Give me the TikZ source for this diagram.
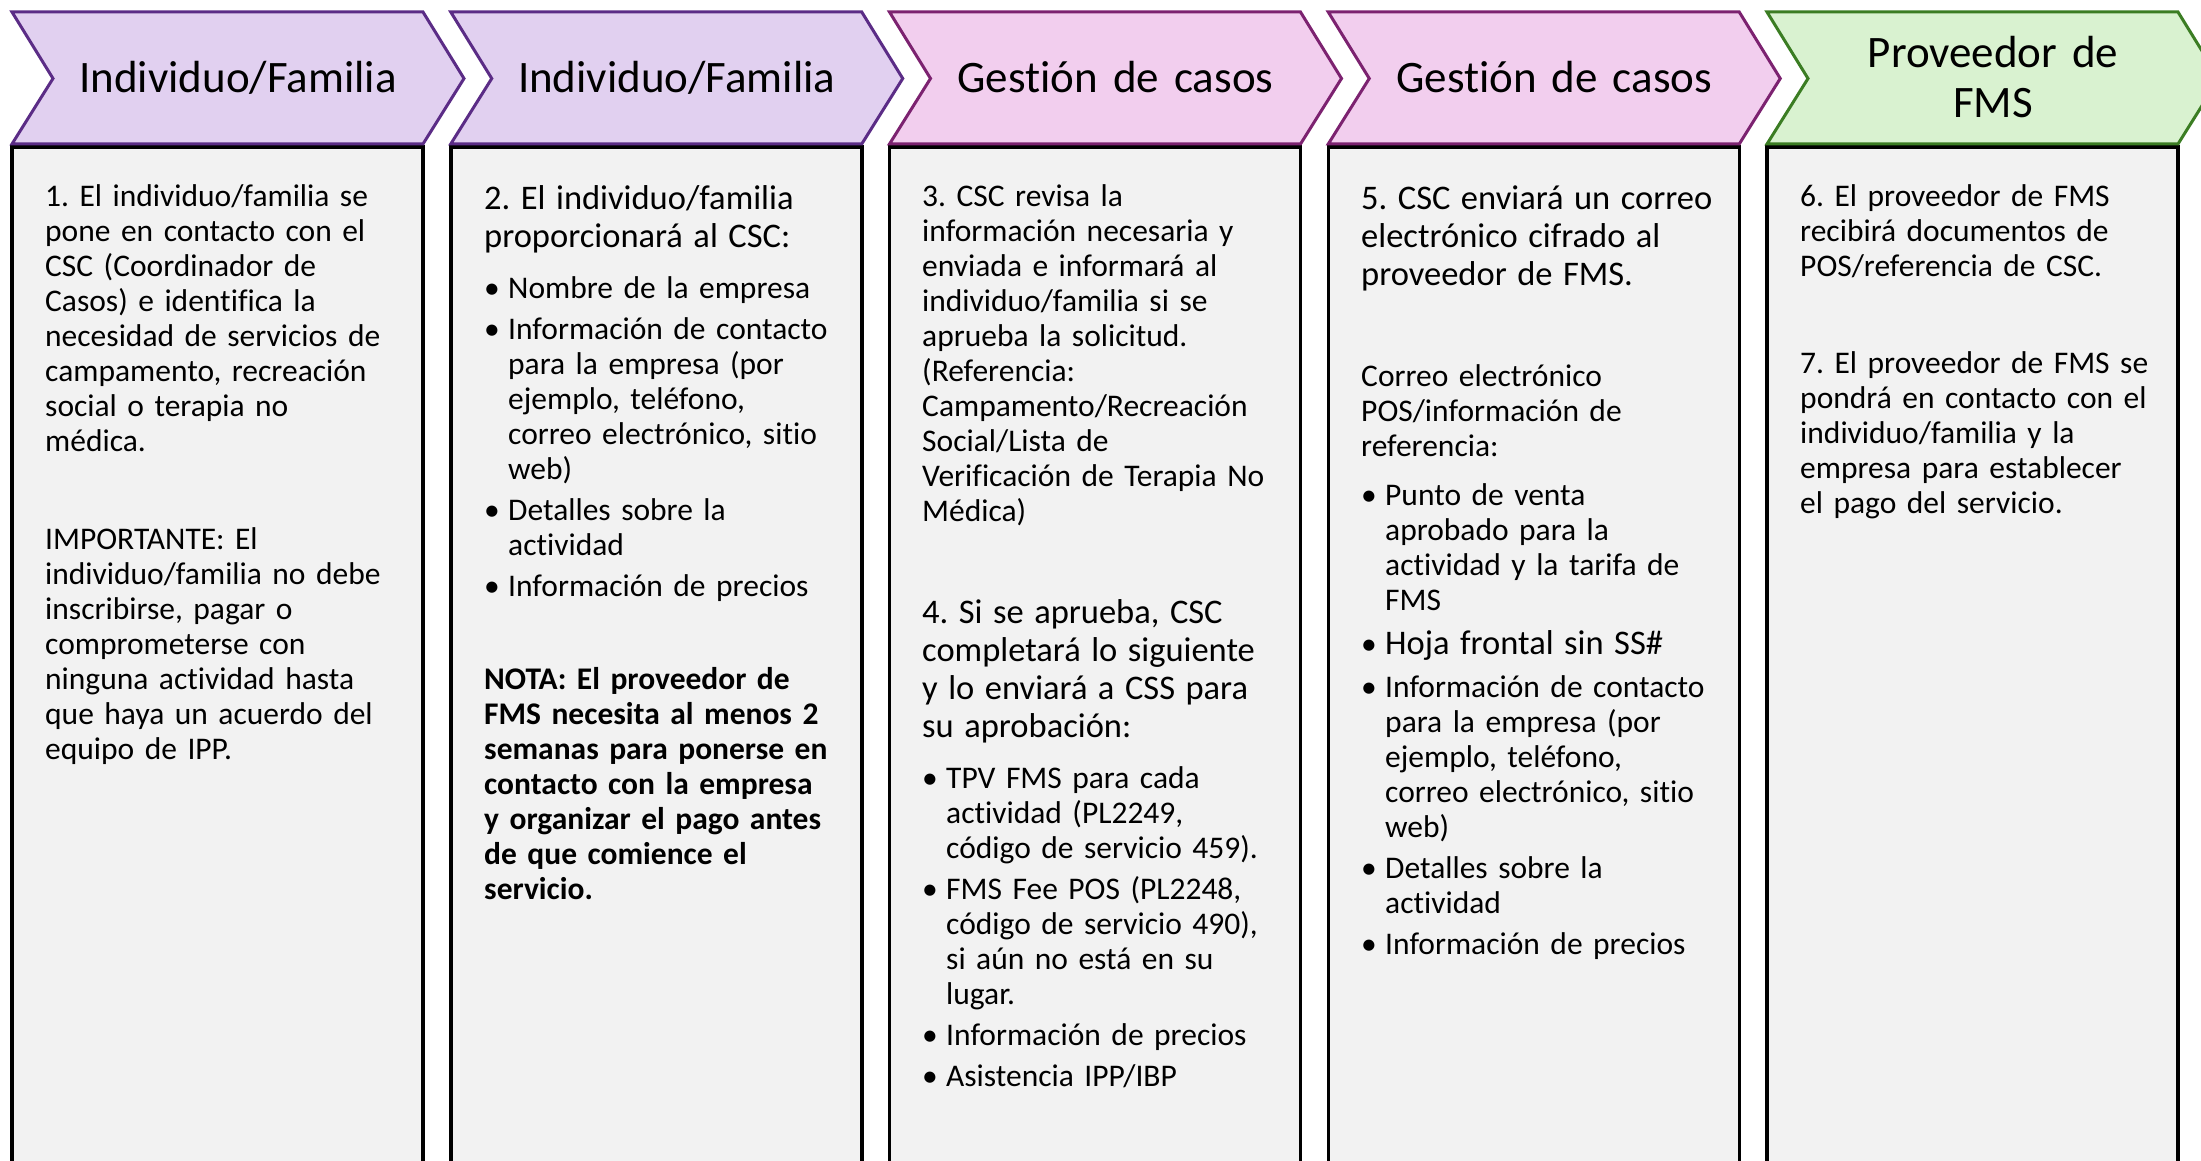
\documentclass[tikz,border=0pt]{standalone}
\usepackage{fontspec}
\setmainfont{Carlito}[Ligatures = {NoCommon, NoContextual}]
\frenchspacing
\definecolor{lilacfill}{HTML}{E1D0F0}
\definecolor{lilacline}{HTML}{5B2C86}
\definecolor{pinkfill}{HTML}{F2CEEE}
\definecolor{pinkline}{HTML}{7C2270}
\definecolor{greenfill}{HTML}{D9F2D0}
\definecolor{greenline}{HTML}{3B7D23}
\definecolor{boxfill}{HTML}{F2F2F2}
\newcommand{\headfont}{\fontsize{45}{50}\selectfont}
\newcommand{\bodyfont}{\fontsize{31.5}{35}\selectfont}
\newcommand{\bigfont}{\fontsize{34.5}{38}\selectfont}
\newcommand{\bigpar}[1]{{\bigfont #1\par}}
\newcommand{\itm}[2][6pt]{\par\vspace{#1}\hangindent=24pt\hangafter=1\noindent\makebox[24pt][l]{\textbullet}#2\par}
\begin{document}
\begin{tikzpicture}[x = 1pt, y = -1pt,
        stepbox/.style = {fill = boxfill, draw = black, line width = 3.5pt},
        chevron/.style = {line width = 3pt, line join = miter},
        headtext/.style = {anchor = base, inner sep = 0, text width = 400pt, align = center, font = \headfont},
        bodytext/.style = {anchor = base west, inner sep = 0, text width = 372pt, align = left, font = \bodyfont}]
        \useasboundingbox (0,0) rectangle (2201,1161);
        \clip (0,0) rectangle (2201,1161);
        \foreach \i/\fillc/\linec/\ytext/\label in {0/lilacfill/lilacline/93/{Individuo/Familia},
                1/lilacfill/lilacline/93/{Individuo/Familia},
                2/pinkfill/pinkline/93/{Gestión de casos},
                3/pinkfill/pinkline/93/{Gestión de casos},
                4/greenfill/greenline/68/{Proveedor de\\FMS}} {
            \pgfmathsetmacro{\lx}{12+438.75*\i}
            \draw[stepbox] (\lx,147) rectangle (\lx+411,1200);
            \draw[chevron, fill = \fillc, draw = \linec] (\lx,12) -- (\lx+411,12) -- (\lx+452,78.5)
                -- (\lx+411,144) -- (\lx,144) -- (\lx+41,78.5) -- cycle;
            \node[headtext] (head\i) at (\lx+226,\ytext) {\label};
        }
        \node[bodytext] (text1) at (45,207) {1. El individuo/familia se\newline pone en contacto con el\newline
            CSC (Coordinador de\newline Casos) e identifica la\newline necesidad de servicios de\newline
            campamento, recreación\newline social o terapia no\newline médica.\par
            \vspace{63pt}
            IMPORTANTE: El\newline individuo/familia no debe\newline inscribirse, pagar o\newline
            comprometerse con\newline ninguna actividad hasta\newline que haya un acuerdo del\newline
            equipo de IPP.};
        \node[bodytext] (text2) at (484,210) {\bigpar{2. El individuo/familia\newline proporcionará al CSC:}
            \itm[16pt]{Nombre de la empresa}
            \itm{Información de contacto\newline para la empresa (por\newline ejemplo, teléfono,\newline
                correo electrónico, sitio\newline web)}
            \itm{Detalles sobre la\newline actividad}
            \itm{Información de precios}
            \vspace{58pt}
            \textbf{NOTA: El proveedor de\newline FMS necesita al menos 2\newline semanas para ponerse en\newline
            contacto con la empresa\newline y organizar el pago antes\newline de que comience el\newline servicio.}};
        \node[bodytext] (text3) at (922,207) {3. CSC revisa la\newline información necesaria y\newline
            enviada e informará al\newline individuo/familia si se\newline aprueba la solicitud.\newline
            (Referencia:\newline Campamento/Recreación\newline Social/Lista de\newline
            Verificación de Terapia No\newline Médica)\par
            \vspace{64pt}
            \bigpar{4. Si se aprueba, CSC\newline completará lo siguiente\newline y lo enviará a CSS para\newline su aprobación:}
            \itm[16pt]{TPV FMS para cada\newline actividad (PL2249,\newline código de servicio 459).}
            \itm{FMS Fee POS (PL2248,\newline código de servicio 490),\newline si aún no está en su\newline lugar.}
            \itm{Información de precios}
            \itm{Asistencia IPP/IBP}};
        \node[bodytext] (text4) at (1361,210) {\bigpar{5. CSC enviará un correo\newline electrónico cifrado al\newline proveedor de FMS.}
            \vspace{66pt}
            Correo electrónico\newline POS/información de\newline referencia:
            \itm[14pt]{Punto de venta\newline aprobado para la\newline actividad y la tarifa de\newline FMS}
            \itm{{\bigfont Hoja frontal sin SS\#\par}}
            \itm[8pt]{Información de contacto\newline para la empresa (por\newline ejemplo, teléfono,\newline
                correo electrónico, sitio\newline web)}
            \itm{Detalles sobre la\newline actividad}
            \itm{Información de precios}};
        \node[bodytext] (text5) at (1800,207) {6. El proveedor de FMS\newline recibirá documentos de\newline
            POS/referencia de CSC.\par
            \vspace{62pt}
            7. El proveedor de FMS se\newline pondrá en contacto con el\newline individuo/familia y la\newline
            empresa para establecer\newline el pago del servicio.};
    \end{tikzpicture}
\end{document}
